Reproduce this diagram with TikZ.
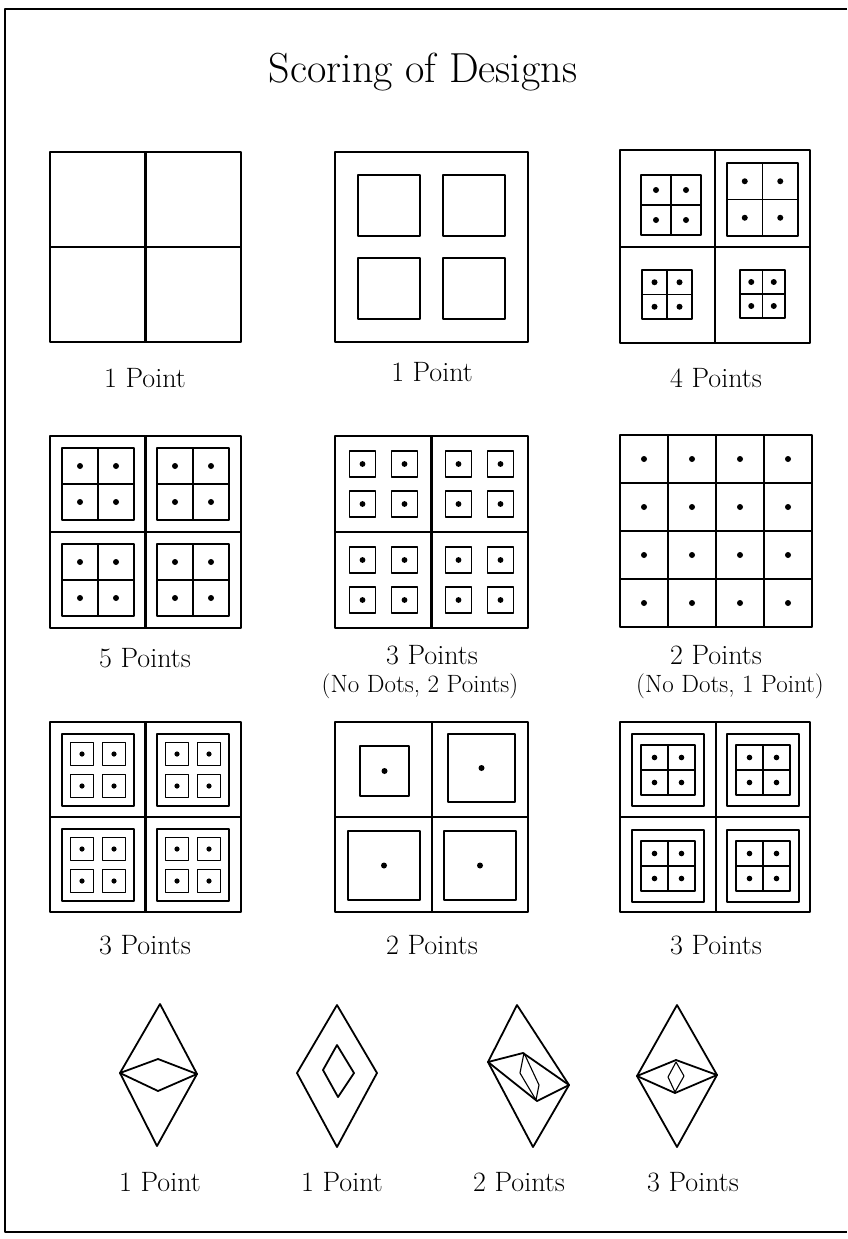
\documentclass[tikz,border=0pt]{standalone}
\usepackage{fontspec}
\begin{document}
\begin{tikzpicture}[x=1pt, y=-1pt, line join=round,
  board/.style={line width=2.1pt},
  ruled/.style={line width=1.8pt},
  lbl/.style={inner sep=0pt, font=\fontsize{28}{30}\selectfont},
  sublbl/.style={inner sep=0pt, font=\fontsize{25}{27}\selectfont}]
\useasboundingbox (0,0) rectangle (847,1239);
% frame and title
\draw[line width=2.4pt] (847,9) -- (5,9) -- (5,1232) -- (847,1232);
\node[inner sep=0pt, font=\fontsize{42}{44}\selectfont] (title) at (423,72) {Scoring of Designs};

% row 1
\draw[board] (50,152) rectangle (241,342) (145.5,152) -- (145.5,342) (50,247) -- (241,247);
\draw[board] (335,152) rectangle (528,342);
\foreach \a/\b in {358/175, 443/175, 358/258, 443/258}
  \draw[ruled] (\a,\b) rectangle ++(62,61);
\draw[board] (620,150) rectangle (810,343) (715,150) -- (715,343) (620,247) -- (810,247);
\foreach \a/\b/\c/\d in {641/175/701/235, 727/163/798/236, 642/270/692/319, 740/270/785/318} {
  \draw[ruled] (\a,\b) rectangle (\c,\d) ({(\a+\c)/2},\b) -- ({(\a+\c)/2},\d) (\a,{(\b+\d)/2}) -- (\c,{(\b+\d)/2});
  \foreach \u in {0.25,0.75} \foreach \v in {0.25,0.75}
    \fill ({\a+\u*(\c-\a)},{\b+\v*(\d-\b)}) circle (3pt);
}
\node[lbl] (p1) at (145,378) {1 Point};
\node[lbl] (p2) at (432,372) {1 Point};
\node[lbl] (p3) at (716,378) {4 Points};

% row 2
\draw[board] (50,436) rectangle (241,628) (145.5,436) -- (145.5,628) (50,532) -- (241,532);
\foreach \a/\b in {62/448, 157/448, 62/544, 157/544} {
  \draw[ruled] (\a,\b) rectangle ++(72,72) (\a+36,\b) -- ++(0,72) (\a,\b+36) -- ++(72,0);
  \foreach \u in {18,54} \foreach \v in {18,54}
    \fill (\a+\u,\b+\v) circle (3pt);
}
\draw[board] (335,436) rectangle (528,628) (431.5,436) -- (431.5,628) (335,532) -- (528,532);
\foreach \cx/\cy in {383.5/484, 479.5/484, 383.5/580, 479.5/580}
  \foreach \u in {-21,21} \foreach \v in {-20,20} {
    \draw[ruled] (\cx+\u-13,\cy+\v-13) rectangle ++(26,26);
    \fill (\cx+\u,\cy+\v) circle (2.9pt);
  }
\draw[board] (620,435) rectangle (812,627);
\foreach \i in {1,2,3}
  \draw[ruled] (620+48*\i,435) -- (620+48*\i,627) (620,435+48*\i) -- (812,435+48*\i);
\foreach \i in {0,...,3} \foreach \j in {0,...,3}
  \fill (644+48*\i,459+48*\j) circle (3pt);
\node[lbl] (p4) at (145,658) {5 Points};
\node[lbl] (p5) at (432,655) {3 Points};
\node[sublbl] (p5b) at (420,686) {(No Dots, 2 Points)};
\node[lbl] (p6) at (716,655) {2 Points};
\node[sublbl] (p6b) at (730,686) {(No Dots, 1 Point)};

% row 3
\draw[board] (50,722) rectangle (241,912) (145.5,722) -- (145.5,912) (50,817) -- (241,817);
\foreach \a/\b in {62/734, 157/734, 62/829, 157/829} {
  \draw[ruled] (\a,\b) rectangle ++(72,72);
  \foreach \u in {-16,16} \foreach \v in {-16,16} {
    \draw[ruled] (\a+36+\u-11.5,\b+36+\v-11.5) rectangle ++(23,23);
    \fill (\a+36+\u,\b+36+\v) circle (2.6pt);
  }
}
\draw[board] (335,722) rectangle (528,912) (432,722) -- (432,912) (335,817) -- (528,817);
\foreach \a/\b/\c/\d in {360/746/409/796, 448/734/515/802, 348/831/420/900, 444/831/516/900} {
  \draw[ruled] (\a,\b) rectangle (\c,\d);
  \fill ({(\a+\c)/2},{(\b+\d)/2}) circle (3pt);
}
\draw[board] (620,722) rectangle (810,912) (716,722) -- (716,912) (620,817) -- (810,817);
\foreach \a/\b in {632/734, 727/734, 632/830, 727/830}
  \draw[ruled] (\a,\b) rectangle ++(72,72);
\foreach \a/\b/\c/\d in {641/745/695/795, 736/745/790/795, 641/841/695/891, 736/841/790/891} {
  \draw[ruled] (\a,\b) rectangle (\c,\d) ({(\a+\c)/2},\b) -- ({(\a+\c)/2},\d) (\a,{(\b+\d)/2}) -- (\c,{(\b+\d)/2});
  \foreach \u in {0.25,0.75} \foreach \v in {0.25,0.75}
    \fill ({\a+\u*(\c-\a)},{\b+\v*(\d-\b)}) circle (2.8pt);
}
\node[lbl] (p7) at (145,945) {3 Points};
\node[lbl] (p8) at (432,945) {2 Points};
\node[lbl] (p9) at (716,945) {3 Points};

% row 4: diamonds
\draw[ruled] (160,1004) -- (197,1074) -- (157,1146) -- (120,1073) -- cycle;
\draw[ruled] (120,1073) -- (158,1059) -- (197,1074) -- (158,1091) -- cycle;
\draw[ruled] (337,1005) -- (377,1073) -- (337,1147) -- (297,1073) -- cycle;
\draw[ruled] (337,1045) -- (354,1073) -- (338,1097) -- (323,1070) -- cycle;
\draw[ruled] (517,1005) -- (569,1085) -- (533,1147) -- (488,1062) -- cycle;
\draw[ruled] (488,1062) -- (523,1053) -- (569,1085) -- (537,1101) -- cycle;
\draw[line width=1.1pt] (524,1053) -- (539,1085) -- (536,1100) -- (520,1073) -- cycle;
\draw[ruled] (677,1005) -- (717,1075) -- (677,1147) -- (637,1076) -- cycle;
\draw[ruled] (637,1076) -- (676,1060) -- (717,1075) -- (675,1093) -- cycle;
\draw[line width=1.1pt] (676,1062) -- (684,1076) -- (675,1092) -- (668,1077) -- cycle;
\node[lbl] (q1) at (160,1182) {1 Point};
\node[lbl] (q2) at (342,1182) {1 Point};
\node[lbl] (q3) at (519,1182) {2 Points};
\node[lbl] (q4) at (693,1182) {3 Points};
\end{tikzpicture}
\end{document}
